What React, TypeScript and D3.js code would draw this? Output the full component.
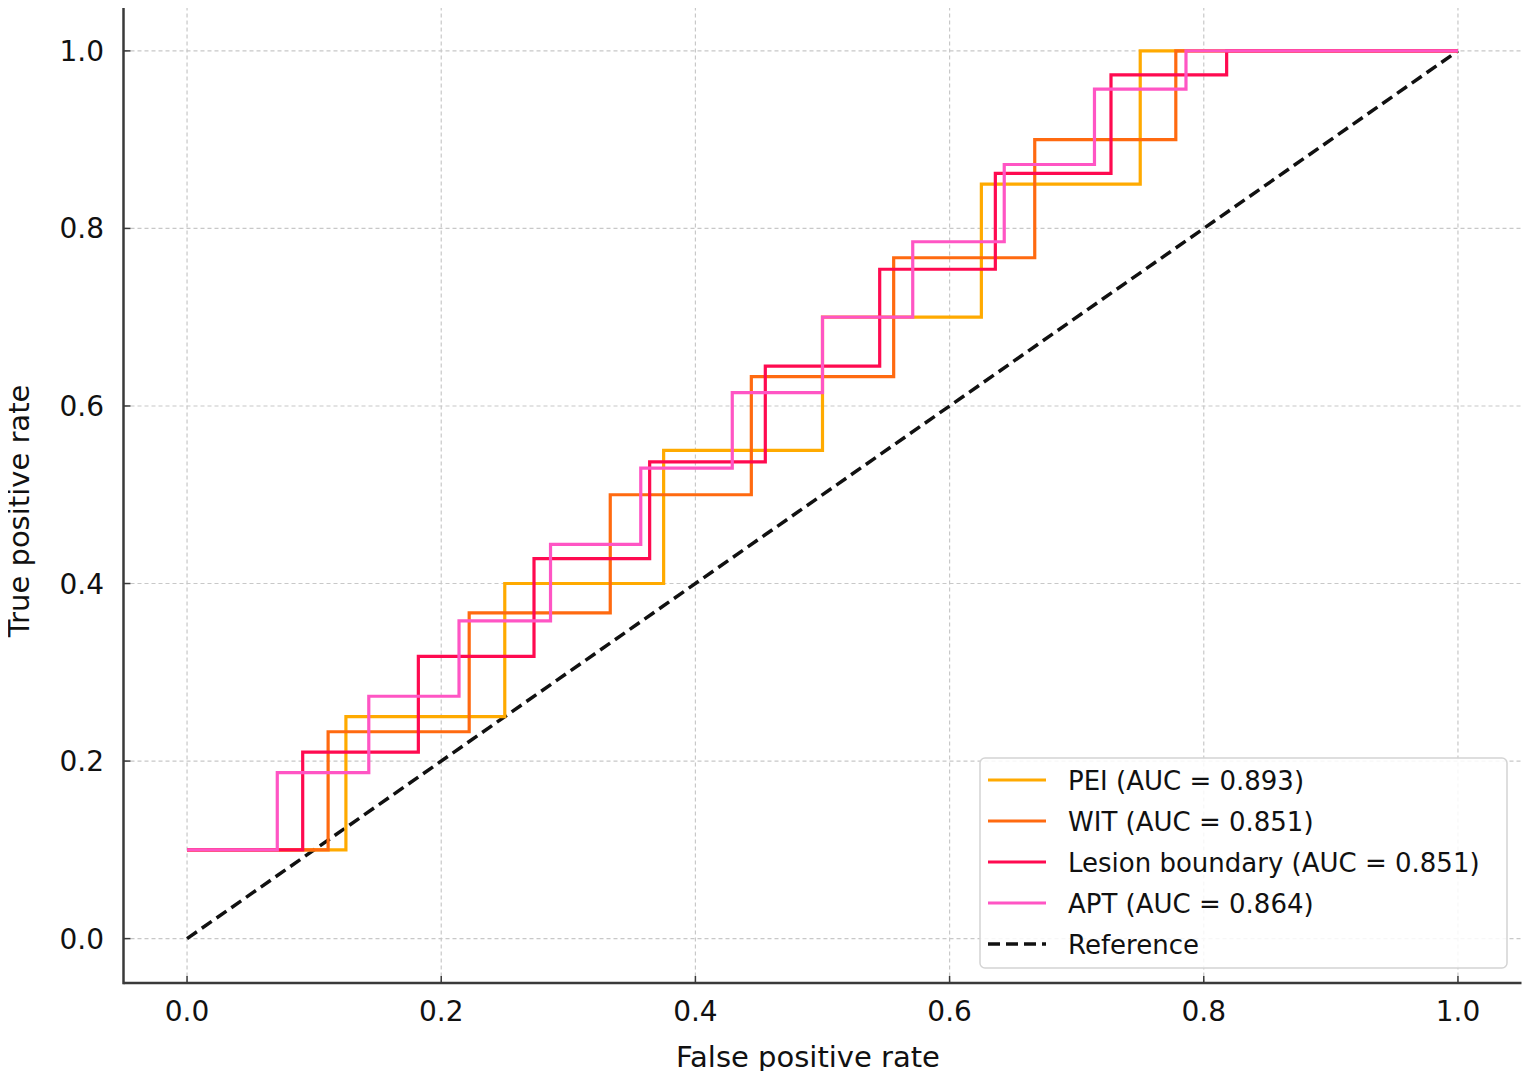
import React from 'react';
import * as d3 from 'd3';

// ROC step points
const peiFpr = [0, 0.125, 0.125, 0.25, 0.25, 0.375, 0.375, 0.5, 0.5, 0.625, 0.625, 0.75, 0.75, 1.0];
const peiTpr = [0.1, 0.1, 0.25, 0.25, 0.4, 0.4, 0.55, 0.55, 0.7, 0.7, 0.85, 0.85, 1.0, 1.0];

const witFpr = [0, 0.111, 0.111, 0.222, 0.222, 0.333, 0.333, 0.444, 0.444, 0.556, 0.556, 0.667, 0.667, 0.778, 0.778, 1.0];
const witTpr = [0.1, 0.1, 0.233, 0.233, 0.367, 0.367, 0.5, 0.5, 0.633, 0.633, 0.767, 0.767, 0.9, 0.9, 1.0, 1.0];

const lesionFpr = [0, 0.091, 0.091, 0.182, 0.182, 0.273, 0.273, 0.364, 0.364, 0.455, 0.455, 0.545, 0.545, 0.636, 0.636, 0.727, 0.727, 0.818, 0.818, 1.0];
const lesionTpr = [0.1, 0.1, 0.21, 0.21, 0.318, 0.318, 0.428, 0.428, 0.537, 0.537, 0.645, 0.645, 0.754, 0.754, 0.862, 0.862, 0.973, 0.973, 1.0, 1.0];

const aptFpr = [0, 0.071, 0.071, 0.143, 0.143, 0.214, 0.214, 0.286, 0.286, 0.357, 0.357, 0.429, 0.429, 0.5, 0.5, 0.571, 0.571, 0.643, 0.643, 0.714, 0.714, 0.786, 0.786, 1.0];
const aptTpr = [0.1, 0.1, 0.187, 0.187, 0.273, 0.273, 0.358, 0.358, 0.444, 0.444, 0.53, 0.53, 0.615, 0.615, 0.7, 0.7, 0.785, 0.785, 0.872, 0.872, 0.957, 0.957, 1.0, 1.0];

const refFpr = [0, 1];
const refTpr = [0, 1];

const seriesNames = ['PEI (AUC = 0.893)', 'WIT (AUC = 0.851)', 'Lesion boundary (AUC = 0.851)', 'APT (AUC = 0.864)'];
const seriesColors = ['#FFAA00', '#FF6A10', '#FF0A50', '#FF55C4'];
const tickValues = [0, 0.2, 0.4, 0.6, 0.8, 1.0];

const W = 1531;
const H = 1079;
const font = '"DejaVu Sans", Verdana, sans-serif';

export default function App() {
  // plot area in page coordinates
  const left = 123.5, right = 1521.5, top = 6.5, bottom = 983;
  const x = d3.scaleLinear().domain([-0.05, 1.05]).range([left, right]);
  const y = d3.scaleLinear().domain([-0.05, 1.05]).range([bottom, top]);

  const curves = [
    { fpr: peiFpr, tpr: peiTpr },
    { fpr: witFpr, tpr: witTpr },
    { fpr: lesionFpr, tpr: lesionTpr },
    { fpr: aptFpr, tpr: aptTpr },
  ];

  const line = d3.line<[number, number]>()
    .x(d => x(d[0]))
    .y(d => y(d[1]));

  const zip = (a: number[], b: number[]) => a.map((v, i) => [v, b[i]] as [number, number]);

  const legendX = 980, legendY = 758, legendW = 527, legendH = 210;
  const rowH = 41;

  return (
    <div style={{ margin: -8 }}>
      <svg width={W} height={H} style={{ display: 'block', background: '#fff' }}>
        {/* grid */}
        <g stroke="#c8c8c8" strokeWidth={1.2} strokeDasharray="4,3">
          {tickValues.map(t => (
            <line key={'gx' + t} x1={x(t)} x2={x(t)} y1={top} y2={bottom} />
          ))}
          {tickValues.map(t => (
            <line key={'gy' + t} x1={left} x2={right} y1={y(t)} y2={y(t)} />
          ))}
        </g>

        {/* reference diagonal */}
        <path d={line(zip(refFpr, refTpr)) || ''} fill="none" stroke="#111" strokeWidth={3.5} strokeDasharray="12,6" />

        {/* ROC curves */}
        {curves.map((c, i) => (
          <path key={i} d={line(zip(c.fpr, c.tpr)) || ''} fill="none" stroke={seriesColors[i]}
            strokeWidth={3.2} strokeLinejoin="miter" />
        ))}

        {/* spines */}
        <line x1={left} x2={left} y1={top} y2={bottom + 1.25} stroke="#3a3a3a" strokeWidth={2.5} />
        <line x1={left} x2={right} y1={bottom} y2={bottom} stroke="#3a3a3a" strokeWidth={2.5} />

        {/* ticks (inward) */}
        <g stroke="#3a3a3a" strokeWidth={1.5}>
          {tickValues.map(t => (
            <line key={'tx' + t} x1={x(t)} x2={x(t)} y1={bottom} y2={bottom - 7} />
          ))}
          {tickValues.map(t => (
            <line key={'ty' + t} x1={left} x2={left + 7} y1={y(t)} y2={y(t)} />
          ))}
        </g>

        {/* tick labels */}
        <g fontFamily={font} fontSize={28} fill="#111">
          {tickValues.map(t => (
            <text key={'lx' + t} x={x(t)} y={bottom + 38} textAnchor="middle">{d3.format('.1f')(t)}</text>
          ))}
          {tickValues.map(t => (
            <text key={'ly' + t} x={104} y={y(t) + 10} textAnchor="end">{d3.format('.1f')(t)}</text>
          ))}
        </g>

        {/* axis labels */}
        <text x={808} y={1067} textAnchor="middle" fontFamily={font} fontSize={29} fill="#111">False positive rate</text>
        <text transform={`translate(29,511) rotate(-90)`} textAnchor="middle" fontFamily={font} fontSize={29} fill="#111">True positive rate</text>

        {/* legend */}
        <rect x={legendX} y={legendY} width={legendW} height={legendH} rx={5} ry={5}
          fill="#fff" fillOpacity={0.85} stroke="#d4d4d4" strokeWidth={1.5} />
        {seriesNames.map((name, i) => (
          <g key={name}>
            <line x1={988} x2={1046} y1={legendY + 22 + i * rowH} y2={legendY + 22 + i * rowH}
              stroke={seriesColors[i]} strokeWidth={3.2} />
            <text x={1068} y={legendY + 22 + i * rowH + 10} fontFamily={font} fontSize={26} fill="#111">{name}</text>
          </g>
        ))}
        <line x1={988} x2={1046} y1={legendY + 22 + 4 * rowH} y2={legendY + 22 + 4 * rowH}
          stroke="#111" strokeWidth={3.5} strokeDasharray="12,6" />
        <text x={1068} y={legendY + 22 + 4 * rowH + 10} fontFamily={font} fontSize={26} fill="#111">Reference</text>
      </svg>
    </div>
  );
}
